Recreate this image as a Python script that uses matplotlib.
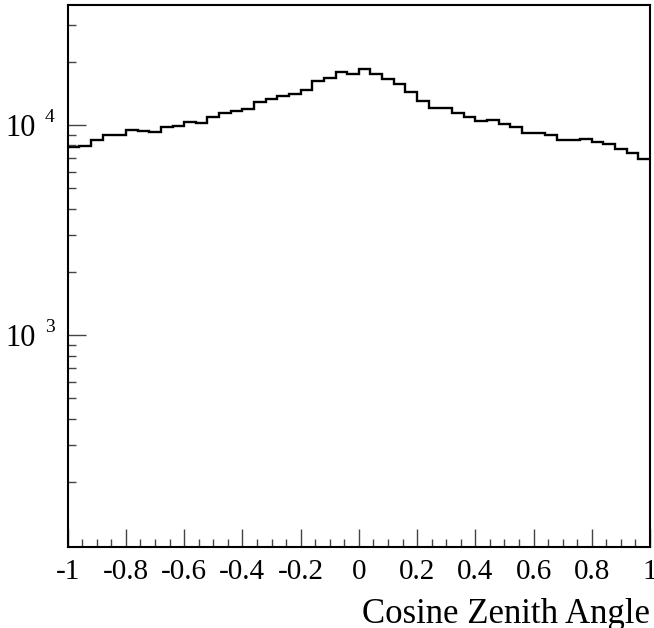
import numpy as np
import matplotlib
matplotlib.use("Agg")
from matplotlib import pyplot as plt
from matplotlib.ticker import FixedLocator, FuncFormatter, MultipleLocator

plt.rcParams['font.family'] = ['Liberation Serif', 'DejaVu Serif']

# cos(zenith) histogram, 50 bins from -1 to 1
edges = np.linspace(-1, 1, 51)
counts = [7900, 7990, 8460, 8960, 8990, 9440, 9360, 9230, 9820, 9910,
          10370, 10220, 10920, 11370, 11620, 11880, 12910, 13260, 13700, 14020,
          14630, 16150, 16690, 17940, 17550, 18420, 17430, 16560, 15620, 14360,
          12970, 12050, 12000, 11410, 10950, 10450, 10530, 10110, 9750, 9210,
          9160, 8930, 8510, 8460, 8580, 8300, 8120, 7660, 7380, 6910]
xticks = [-1, -0.8, -0.6, -0.4, -0.2, 0, 0.2, 0.4, 0.6, 0.8, 1]
xticklabels = ["-1", "-0.8", "-0.6", "-0.4", "-0.2", "0", "0.2", "0.4", "0.6", "0.8", "1"]
ydecades = [3, 4]

fig = plt.figure(figsize=(6.54, 6.28), dpi=100)
ax = fig.add_axes([0.1035, 0.1295, 0.8904, 0.8625])

ax.stairs(counts, edges, color='black', lw=1.7, baseline=None)

ax.set_yscale('log')
ax.set_xlim(-1, 1)
ax.set_ylim(98.5, 37270)

ax.xaxis.set_major_locator(FixedLocator(xticks))
ax.set_xticklabels(xticklabels)
ax.xaxis.set_minor_locator(MultipleLocator(0.05))

# y labels drawn ROOT-style: "10" with a small, spaced-out exponent
ax.yaxis.set_major_locator(FixedLocator([10.0 ** k for k in ydecades]))
ax.yaxis.set_major_formatter(FuncFormatter(lambda v, p: "10"))
ax.yaxis.set_minor_locator(FixedLocator(
    [m * 10 ** e for e in (2, 3, 4) for m in range(2, 10)]))
ax.yaxis.set_minor_formatter(FuncFormatter(lambda v, p: ""))
for k in ydecades:
    ax.annotate(str(k), xy=(0, 10.0 ** k), xycoords=('axes fraction', 'data'),
                xytext=(-16.5, 2.5), textcoords='offset points',
                ha='left', va='baseline', fontsize=14)

ax.tick_params(which='both', direction='in', top=False, right=False,
               width=1.0, color='#444444')
ax.tick_params(axis='x', which='major', length=13, pad=9, labelsize=21)
ax.tick_params(axis='x', which='minor', length=6)
ax.tick_params(axis='y', which='major', length=13, pad=23, labelsize=22)
ax.tick_params(axis='y', which='minor', length=6)

for s in ax.spines.values():
    s.set_linewidth(1.5)

ax.set_xlabel("Cosine Zenith Angle", fontsize=25, loc='right', labelpad=9)

fig.savefig("out.png", dpi=100)
